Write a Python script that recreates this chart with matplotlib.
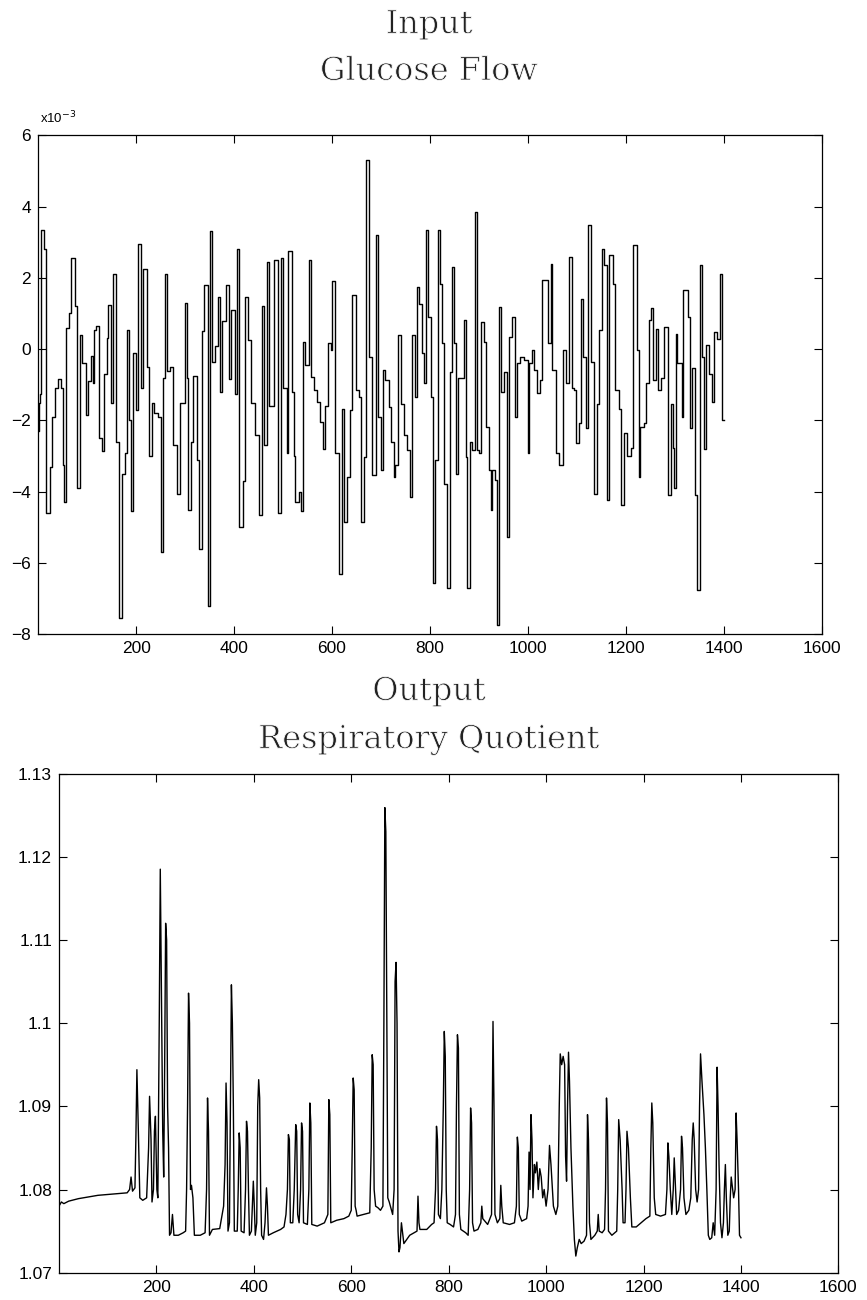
import matplotlib.pyplot as plt
import matplotlib.patheffects as pe
import numpy as np

# Input: glucose flow (x10^-3), held constant between change times
glucose_t = [0, 2, 4, 6, 12, 17, 24, 29, 35, 41, 46, 50, 53, 57, 63, 68, 75, 80, 85, 90,
             97, 102, 107, 111, 114, 119, 125, 131, 135, 141, 143, 148, 153, 158, 166, 172,
             177, 182, 186, 190, 193, 199, 203, 210, 215, 222, 227, 233, 237, 244, 250, 254,
             259, 264, 269, 275, 283, 290, 300, 303, 305, 312, 317, 324, 329, 334, 339, 346,
             350, 355, 361, 367, 372, 376, 384, 389, 393, 401, 406, 410, 418, 423, 428, 434,
             443, 450, 457, 462, 467, 472, 481, 490, 496, 499, 508, 511, 518, 522, 525, 532,
             537, 540, 545, 552, 558, 564, 569, 576, 581, 586, 592, 597, 600, 607, 614, 620,
             624, 631, 636, 641, 648, 654, 660, 665, 669, 675, 682, 689, 693, 699, 704, 709,
             716, 721, 726, 729, 735, 740, 746, 753, 759, 764, 770, 774, 777, 783, 787, 791,
             796, 801, 806, 811, 817, 821, 825, 828, 835, 841, 844, 849, 852, 858, 869, 873,
             876, 881, 886, 891, 895, 900, 905, 910, 915, 920, 924, 927, 933, 937, 941, 944,
             951, 958, 961, 968, 973, 978, 983, 992, 999, 1002, 1008, 1012, 1019, 1024, 1029,
             1040, 1046, 1050, 1057, 1063, 1072, 1077, 1084, 1089, 1094, 1098, 1104, 1108,
             1113, 1118, 1123, 1128, 1135, 1140, 1145, 1151, 1155, 1162, 1166, 1173, 1178,
             1185, 1190, 1196, 1203, 1210, 1215, 1222, 1226, 1228, 1237, 1241, 1246, 1251,
             1256, 1261, 1266, 1271, 1278, 1285, 1292, 1295, 1299, 1302, 1305, 1314, 1317,
             1326, 1331, 1335, 1340, 1344, 1351, 1355, 1359, 1363, 1370, 1376, 1379, 1385,
             1392, 1396, 1400]
glucose_v = [-2.3, -1.5, -1.25, 3.35, 2.8, -4.6, -3.3, -1.9, -1.1, -0.85, -1.1, -3.25, -4.3,
             0.6, 1.0, 2.55, 1.2, -3.9, 0.4, -0.4, -1.85, -0.9, -0.2, -0.95, 0.55, 0.65, -2.5,
             -2.85, -0.7, 0.3, 1.25, -1.5, 2.1, -2.6, -7.55, -3.5, -2.9, 0.55, -2.0, -4.55,
             -0.1, -1.7, 2.95, -1.1, 2.25, -0.5, -3.0, -1.5, -1.8, -1.9, -5.7, -0.8, 2.1, -0.6,
             -0.5, -2.7, -4.05, -1.5, 1.3, -0.8, -4.5, -2.6, -0.75, -3.1, -5.6, 0.5, 1.8, -7.2,
             3.3, -0.35, 0.1, 1.45, -1.2, 0.8, 1.8, -0.85, 1.1, -1.25, 2.8, -5.0, -3.7, 1.45,
             0.25, -1.5, -2.4, -4.65, 1.2, -2.7, 2.45, -1.6, 2.5, -4.6, 2.55, -1.1, -2.9, 2.75,
             -1.2, -3.0, -4.3, -4.0, -4.55, 0.2, -0.45, 2.5, -0.78, -1.15, -1.48, -2.05, -2.79,
             -1.6, 0.16, -0.03, 1.9, -2.9, -6.3, -1.67, -4.85, -3.58, -1.71, 1.52, -1.15, -1.34,
             -4.85, -3.02, 5.3, -0.22, -3.53, 3.2, -1.9, -3.4, -0.59, -0.87, -1.62, -2.6, -3.58,
             -3.26, 0.39, -1.53, -2.41, -2.83, -4.14, 0.39, -1.34, 1.75, 1.28, -0.12, -0.96,
             3.34, 0.9, -1.34, -6.57, -3.11, 3.34, 1.84, 0.16, -3.77, -6.71, -0.64, 2.31, 0.16,
             -3.49, -0.82, 0.81, -3.02, -6.71, -2.6, -2.83, 3.85, -2.83, -2.92, 0.77, 0.2, -2.18,
             -3.4, -4.52, -3.4, -3.68, -7.75, 1.19, -1.2, -0.64, -5.27, 0.35, 0.9, -1.9, -0.4,
             -0.22, -0.31, -2.92, -0.4, -0.03, -0.59, -1.24, -0.87, 1.93, 0.16, 2.4, -0.59,
             -2.92, -3.26, -0.03, -0.96, 2.58, -1.1, -1.15, -2.64, -2.07, 1.42, -0.22, -2.22,
             3.49, -0.36, -4.05, -1.53, 0.53, 2.82, 2.35, -4.24, 2.63, 1.84, -1.15, -1.67, -4.38,
             -2.36, -3.0, -2.77, 2.91, -0.03, -3.58, -2.18, -2.07, -0.96, 0.81, 1.14, -0.87,
             0.57, -1.15, -0.82, 0.62, -4.09, -1.53, -2.77, -3.9, 0.43, -0.4, -1.9, 1.65, 0.9,
             -2.22, -0.54, -4.09, -6.76, 2.35, -0.22, -2.79, 0.12, -0.69, -1.48, 0.48, 0.29,
             2.12, -1.99, -1.99]

# Output: respiratory quotient
rq_t = [0, 5, 10, 20, 40, 60, 80, 100, 120, 140, 145, 148, 151, 156, 158, 160, 163, 166, 172,
        180, 184, 186, 189, 191, 194, 196, 198, 201, 203, 206, 208, 211, 213, 215, 217, 219,
        221, 223, 225, 227, 230, 233, 236, 245, 255, 260, 262, 264, 266, 268, 270, 272, 275,
        278, 290, 300, 303, 305, 307, 309, 315, 330, 338, 341, 343, 345, 347, 350, 352, 354,
        356, 358, 360, 366, 368, 370, 372, 374, 380, 383, 385, 387, 389, 391, 395, 397, 399,
        401, 403, 406, 408, 410, 412, 414, 416, 420, 423, 426, 428, 430, 440, 455, 462, 466,
        469, 471, 473, 475, 480, 483, 486, 488, 490, 493, 496, 498, 500, 502, 510, 513, 515,
        517, 519, 530, 545, 552, 554, 556, 558, 570, 585, 595, 600, 602, 604, 606, 608, 610,
        612, 625, 638, 641, 643, 645, 647, 650, 655, 660, 665, 667, 669, 671, 673, 675, 678,
        685, 688, 690, 692, 694, 696, 698, 700, 703, 705, 708, 720, 735, 737, 739, 741, 755,
        765, 770, 773, 775, 777, 779, 783, 786, 789, 791, 793, 795, 797, 803, 810, 814, 816,
        818, 820, 822, 825, 835, 840, 843, 845, 847, 849, 852, 860, 866, 868, 870, 880, 888,
        889, 891, 893, 895, 900, 905, 907, 909, 912, 925, 935, 939, 941, 943, 945, 950, 960,
        963, 965, 967, 969, 971, 973, 976, 978, 981, 984, 987, 990, 993, 996, 1000, 1004,
        1007, 1010, 1015, 1020, 1024, 1027, 1029, 1032, 1035, 1038, 1040, 1042, 1044, 1046,
        1048, 1051, 1055, 1058, 1061, 1064, 1068, 1072, 1078, 1083, 1085, 1087, 1089, 1092,
        1100, 1105, 1107, 1109, 1115, 1120, 1122, 1124, 1126, 1128, 1135, 1145, 1147, 1149,
        1152, 1156, 1158, 1162, 1164, 1166, 1169, 1173, 1176, 1185, 1195, 1205, 1213, 1215,
        1217, 1219, 1222, 1225, 1235, 1245, 1248, 1250, 1252, 1255, 1258, 1261, 1263, 1265,
        1268, 1272, 1276, 1278, 1280, 1283, 1287, 1293, 1297, 1300, 1302, 1304, 1307, 1310,
        1313, 1315, 1317, 1320, 1324, 1327, 1330, 1333, 1336, 1340, 1343, 1346, 1349, 1351,
        1353, 1355, 1358, 1361, 1364, 1366, 1368, 1370, 1373, 1376, 1378, 1380, 1383, 1385,
        1388, 1390, 1392, 1395, 1397, 1400]
rq_v = [1.0780, 1.0785, 1.0783, 1.0786, 1.0789, 1.0791, 1.0793, 1.0794, 1.0795, 1.0796,
        1.0800, 1.0815, 1.0798, 1.0802, 1.0865, 1.0944, 1.0870, 1.0790, 1.0787, 1.0790,
        1.0850, 1.0912, 1.0860, 1.0785, 1.0800, 1.0870, 1.0888, 1.0800, 1.0790, 1.1010,
        1.1185, 1.1000, 1.0870, 1.0815, 1.0950, 1.1120, 1.1100, 1.0900, 1.0850, 1.0745,
        1.0748, 1.0770, 1.0745, 1.0745, 1.0748, 1.0750, 1.0800, 1.0900, 1.1036, 1.1000,
        1.0800, 1.0805, 1.0790, 1.0745, 1.0745, 1.0748, 1.0800, 1.0910, 1.0870, 1.0745,
        1.0752, 1.0753, 1.0780, 1.0830, 1.0928, 1.0880, 1.0750, 1.0760, 1.0900, 1.1046,
        1.1000, 1.0900, 1.0750, 1.0750, 1.0800, 1.0868, 1.0850, 1.0750, 1.0748, 1.0800,
        1.0882, 1.0870, 1.0800, 1.0745, 1.0750, 1.0780, 1.0810, 1.0780, 1.0745, 1.0760,
        1.0900, 1.0932, 1.0910, 1.0800, 1.0745, 1.0740, 1.0760, 1.0802, 1.0780, 1.0745,
        1.0748, 1.0752, 1.0755, 1.0770, 1.0800, 1.0866, 1.0860, 1.0760, 1.0760, 1.0800,
        1.0878, 1.0870, 1.0770, 1.0760, 1.0800, 1.0880, 1.0870, 1.0760, 1.0758, 1.0800,
        1.0904, 1.0880, 1.0758, 1.0756, 1.0760, 1.0770, 1.0908, 1.0890, 1.0760, 1.0763,
        1.0765, 1.0768, 1.0775, 1.0850, 1.0934, 1.0920, 1.0780, 1.0775, 1.0768, 1.0770,
        1.0772, 1.0850, 1.0962, 1.0950, 1.0800, 1.0780, 1.0778, 1.0775, 1.0780, 1.1000,
        1.1259, 1.1230, 1.1000, 1.0790, 1.0785, 1.0770, 1.0800, 1.1050, 1.1073, 1.1000,
        1.0750, 1.0725, 1.0730, 1.0760, 1.0750, 1.0735, 1.0745, 1.0750, 1.0792, 1.0760,
        1.0752, 1.0752, 1.0758, 1.0760, 1.0800, 1.0876, 1.0860, 1.0770, 1.0765, 1.0800,
        1.0900, 1.0990, 1.0960, 1.0800, 1.0760, 1.0758, 1.0755, 1.0770, 1.0900, 1.0986,
        1.0970, 1.0770, 1.0752, 1.0748, 1.0745, 1.0800, 1.0898, 1.0880, 1.0760, 1.0750,
        1.0752, 1.0760, 1.0780, 1.0765, 1.0758, 1.0770, 1.0850, 1.1002, 1.0900, 1.0770,
        1.0760, 1.0765, 1.0805, 1.0780, 1.0760, 1.0758, 1.0760, 1.0780, 1.0863, 1.0850,
        1.0770, 1.0762, 1.0765, 1.0780, 1.0845, 1.0800, 1.0890, 1.0860, 1.0790, 1.0830,
        1.0820, 1.0833, 1.0800, 1.0825, 1.0815, 1.0790, 1.0800, 1.0780, 1.0800, 1.0853,
        1.0830, 1.0780, 1.0770, 1.0780, 1.0900, 1.0963, 1.0950, 1.0960, 1.0950, 1.0840,
        1.0810, 1.0900, 1.0965, 1.0930, 1.0850, 1.0780, 1.0740, 1.0720, 1.0730, 1.0740,
        1.0735, 1.0738, 1.0745, 1.0890, 1.0860, 1.0760, 1.0740, 1.0745, 1.0750, 1.0770,
        1.0750, 1.0748, 1.0752, 1.0800, 1.0910, 1.0880, 1.0750, 1.0745, 1.0750, 1.0800,
        1.0884, 1.0860, 1.0800, 1.0760, 1.0760, 1.0800, 1.0870, 1.0850, 1.0790, 1.0755,
        1.0755, 1.0760, 1.0765, 1.0768, 1.0850, 1.0904, 1.0880, 1.0790, 1.0770, 1.0768,
        1.0770, 1.0800, 1.0856, 1.0840, 1.0800, 1.0770, 1.0800, 1.0838, 1.0810, 1.0770,
        1.0775, 1.0800, 1.0864, 1.0850, 1.0790, 1.0770, 1.0775, 1.0790, 1.0860, 1.0880,
        1.0860, 1.0800, 1.0785, 1.0800, 1.0900, 1.0963, 1.0930, 1.0890, 1.0850, 1.0800,
        1.0745, 1.0740, 1.0742, 1.0760, 1.0745, 1.0800, 1.0947, 1.0900, 1.0830, 1.0760,
        1.0742, 1.0760, 1.0800, 1.0830, 1.0790, 1.0745, 1.0750, 1.0790, 1.0815, 1.0800,
        1.0790, 1.0800, 1.0892, 1.0860, 1.0800, 1.0745, 1.0742]

x_ticks = [200, 400, 600, 800, 1000, 1200, 1400, 1600]
glucose_yticks = [-8, -6, -4, -2, 0, 2, 4, 6]
rq_yticks = [1.07, 1.08, 1.09, 1.10, 1.11, 1.12, 1.13]
rq_yticklabels = ["1.07", "1.08", "1.09", "1.1", "1.11", "1.12", "1.13"]

# thin serif titles, like the old plotter font
title_font = dict(family="DejaVu Serif", fontsize=23, color="#222222",
                  path_effects=[pe.Stroke(linewidth=0.6, foreground="white")])
tick_font = "Liberation Sans"

fig = plt.figure(figsize=(8.67, 13), dpi=100)


def style_axes(ax):
    ax.tick_params(direction="in", length=6, width=0.8, top=True, right=True,
                   labelsize=12.5, pad=5)
    for lbl in ax.get_xticklabels() + ax.get_yticklabels():
        lbl.set_fontfamily(tick_font)
    for s in ax.spines.values():
        s.set_linewidth(0.9)


# Top panel: glucose flow
ax1 = fig.add_axes([0.044, 0.512, 0.904, 0.384])
ax1.step(glucose_t, np.array(glucose_v) * 1e-3, where="post", color="black", lw=1.0)
ax1.set_xlim(0, 1600)
ax1.set_ylim(-8e-3, 6e-3)
ax1.set_xticks(x_ticks)
ax1.set_xticklabels([str(v) for v in x_ticks])
ax1.set_yticks(np.array(glucose_yticks) * 1e-3)
ax1.set_yticklabels([str(v).replace("-", "\u2212") for v in glucose_yticks])
style_axes(ax1)
fig.text(0.046, 0.909, r"x10$^{-3}$", fontsize=9.5, family=tick_font, va="center")
fig.text(0.495, 0.981, "Input", ha="center", va="center", **title_font)
fig.text(0.495, 0.945, "Glucose Flow", ha="center", va="center", **title_font)

# Bottom panel: respiratory quotient
ax2 = fig.add_axes([0.068, 0.021, 0.899, 0.384])
ax2.plot(rq_t, rq_v, color="black", lw=1.0)
ax2.set_xlim(0, 1600)
ax2.set_ylim(1.07, 1.13)
ax2.set_xticks(x_ticks)
ax2.set_xticklabels([str(v) for v in x_ticks])
ax2.set_yticks(rq_yticks)
ax2.set_yticklabels(rq_yticklabels)
style_axes(ax2)
fig.text(0.495, 0.468, "Output", ha="center", va="center", **title_font)
fig.text(0.495, 0.431, "Respiratory Quotient", ha="center", va="center", **title_font)

fig.savefig("out.png", dpi=100)
